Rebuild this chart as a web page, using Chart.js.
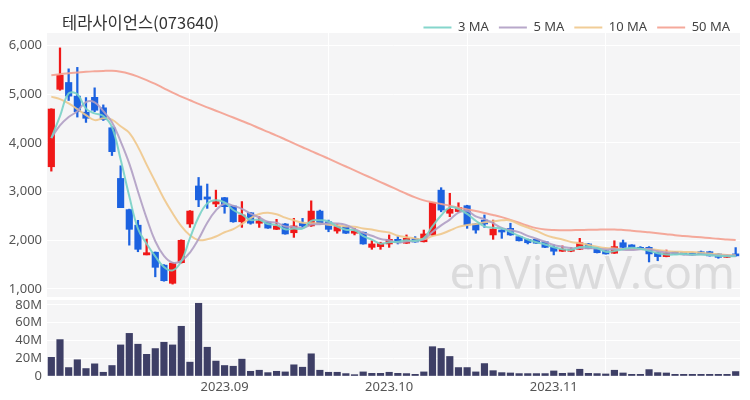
<!DOCTYPE html>
<html>
<head>
<meta charset="utf-8">
<script src="https://cdn.jsdelivr.net/npm/chart.js@4.4.0/dist/chart.umd.min.js"></script>
<style>
  body { margin: 0; background: #fff; }
  #wrap { position: relative; width: 750px; height: 400px; }
  #title { position: absolute; left: 62px; top: 11px; line-height: 22px; font-size: 16.5px;
           font-family: "Noto Sans CJK KR", "Noto Sans", sans-serif; color: #333; }
</style>
</head>
<body>
<div id="wrap">
  <div id="title">테라사이언스(073640)</div>
  <canvas id="myChart" width="750" height="400"></canvas>
</div>
<script>
// 거래일
const dates = [
  '2023-08-03','2023-08-04','2023-08-07','2023-08-08','2023-08-09','2023-08-10','2023-08-11','2023-08-14','2023-08-16','2023-08-17',
  '2023-08-18','2023-08-21','2023-08-22','2023-08-23','2023-08-24','2023-08-25','2023-08-28','2023-08-29','2023-08-30','2023-08-31',
  '2023-09-01','2023-09-04','2023-09-05','2023-09-06','2023-09-07','2023-09-08','2023-09-11','2023-09-12','2023-09-13','2023-09-14',
  '2023-09-15','2023-09-18','2023-09-19','2023-09-20','2023-09-21','2023-09-22','2023-09-25','2023-09-26','2023-09-27','2023-10-04',
  '2023-10-05','2023-10-06','2023-10-10','2023-10-11','2023-10-12','2023-10-13','2023-10-16','2023-10-17','2023-10-18','2023-10-19',
  '2023-10-20','2023-10-23','2023-10-24','2023-10-25','2023-10-26','2023-10-27','2023-10-30','2023-10-31','2023-11-01','2023-11-02',
  '2023-11-03','2023-11-06','2023-11-07','2023-11-08','2023-11-09','2023-11-10','2023-11-13','2023-11-14','2023-11-15','2023-11-16',
  '2023-11-17','2023-11-20','2023-11-21','2023-11-22','2023-11-23','2023-11-24','2023-11-27','2023-11-28','2023-11-29','2023-11-30'
];
const tickLabels = ['2023.09', '2023.10', '2023.11'];
const priceTicks = [1000, 2000, 3000, 4000, 5000, 6000];
const volumeTicks = [0, 20, 40, 60, 80];

const openPrice = [
  3510,5100,5240,4960,4630,4935,4720,4310,3270,2630,
  2310,1700,1755,1490,1117,1540,2335,3115,2890,2745,
  2875,2705,2380,2565,2350,2375,2225,2335,2155,2350,
  2295,2600,2380,2190,2280,2145,2165,1855,1870,1925,
  2020,1940,2040,1970,2110,3030,2555,2590,2710,2335,
  2415,2110,2210,2245,2075,2020,2020,1970,1855,1775,
  1775,1815,1925,1835,1785,1735,1950,1905,1855,1855,
  1745,1665,1765,1735,1735,1765,1765,1720,1650,1720
];
const highPrice = [
  4700,5950,5520,5550,4930,5130,4780,4330,3530,2640,
  2410,2025,1760,1500,1540,2010,2610,3290,3155,3030,
  2880,2710,2795,2570,2485,2380,2430,2345,2450,2450,
  2810,2620,2415,2335,2290,2245,2170,1990,1960,2110,
  2075,2110,2075,2210,2780,3080,2965,2770,2720,2340,
  2520,2415,2215,2350,2080,2025,2030,1980,1905,1885,
  1850,2040,1935,1845,1790,1990,2005,1910,1870,1870,
  1760,1800,1770,1740,1745,1780,1775,1725,1695,1850
];
const lowPrice = [
  3420,5080,4870,4530,4420,4640,4460,3740,2670,1900,
  1765,1700,1250,1160,1100,1530,2265,2690,2655,2690,
  2555,2370,2265,2330,2265,2245,2220,2125,2060,2245,
  2285,2330,2175,2145,2140,2110,1920,1815,1815,1855,
  1925,1935,1960,1965,2100,2585,2485,2580,2245,2145,
  2265,2020,2040,2100,1985,1925,1935,1850,1700,1770,
  1765,1810,1825,1740,1715,1730,1850,1810,1810,1555,
  1580,1660,1715,1700,1695,1710,1675,1630,1645,1675
];
const closePrice = [
  4695,5390,4960,4640,4505,4670,4480,3820,2670,2225,
  1815,1745,1445,1170,1530,2000,2600,2830,2845,2795,
  2690,2380,2520,2350,2400,2250,2295,2130,2295,2295,
  2600,2335,2225,2280,2145,2190,1925,1925,1940,2020,
  1950,2040,1965,2130,2775,2620,2635,2675,2315,2210,
  2335,2230,2170,2110,1990,1950,1940,1855,1775,1815,
  1815,1950,1830,1745,1720,1870,1855,1815,1815,1720,
  1665,1735,1720,1705,1700,1715,1680,1650,1690,1680
];
// 거래량 (백만주)
const volumeM = [
  21,41,9.5,18.3,8.4,13.7,4.2,11.8,35,48,
  35.8,24.4,30.9,38,35,56,15.6,81.9,32.4,16.8,
  11.8,11,19,5.3,6.5,3.8,5.3,4.6,12.6,9.9,
  25,6.5,4.2,4.2,2.7,1.5,4.6,3,3,4.2,
  3,2.7,1.9,4.6,33,31,22,9.5,9.5,4.6,
  14,6,3.8,3.4,2.7,2.7,2.7,2.7,5.7,3,
  3.4,7.6,3,2.7,2.3,6.5,3.4,1.9,1.9,7.2,
  3.8,3.4,1.9,1.9,1.9,1.9,1.9,1.9,1.9,5
];
const ma3 = [
  4100,4550,5015,4997,4702,4605,4552,4323,3657,2905,
  2237,1928,1668,1453,1382,1567,2043,2477,2758,2823,
  2777,2622,2530,2417,2423,2333,2315,2225,2240,2240,
  2397,2410,2387,2280,2217,2205,2087,2013,1930,1962,
  1970,2003,1985,2045,2290,2508,2677,2643,2542,2400,
  2287,2258,2245,2170,2090,2017,1960,1915,1857,1815,
  1802,1860,1865,1842,1765,1778,1815,1847,1828,1783,
  1733,1707,1707,1720,1708,1707,1698,1682,1673,1673
];
const ma5 = [
  4100,4358,4530,4650,4838,4833,4651,4423,4029,3573,
  3002,2455,1980,1680,1541,1578,1749,2026,2361,2614,
  2752,2708,2646,2547,2468,2380,2363,2285,2274,2253,
  2323,2331,2350,2347,2317,2235,2153,2093,2025,2000,
  1952,1975,1983,2021,2172,2306,2425,2567,2604,2491,
  2434,2353,2252,2211,2167,2090,2032,1969,1902,1867,
  1840,1842,1837,1831,1812,1823,1804,1801,1815,1815,
  1774,1750,1731,1709,1705,1715,1704,1690,1687,1683
];
const ma10 = [
  4950,4899,4810,4694,4570,4467,4505,4477,4340,4206,
  3918,3553,3202,2855,2557,2290,2102,2003,2021,2078,
  2165,2229,2336,2454,2541,2566,2536,2466,2411,2361,
  2352,2347,2318,2311,2285,2279,2242,2222,2186,2159,
  2094,2064,2038,2023,2086,2129,2200,2275,2313,2332,
  2370,2389,2410,2408,2329,2262,2193,2111,2057,2017,
  1965,1937,1903,1867,1840,1832,1823,1819,1823,1814,
  1799,1777,1766,1762,1760,1745,1727,1711,1698,1694
];
const ma50 = [
  5390,5410,5430,5445,5460,5470,5478,5480,5460,5420,
  5360,5290,5210,5120,5030,4950,4875,4800,4730,4660,
  4590,4520,4450,4380,4300,4225,4150,4070,3990,3910,
  3830,3755,3675,3595,3515,3435,3355,3275,3195,3115,
  3035,2955,2880,2820,2780,2745,2710,2670,2635,2600,
  2560,2520,2475,2420,2360,2300,2250,2220,2210,2208,
  2208,2210,2214,2218,2222,2222,2212,2198,2182,2163,
  2145,2125,2105,2090,2075,2060,2045,2030,2018,2005
];

const UP = '#f01818';
const DOWN = '#1c62e0';
const candleColors = closePrice.map((c, i) => c >= openPrice[i] ? UP : DOWN);
const fontFamily = '"Noto Sans", sans-serif';

const panePlugin = {
  id: 'panes',
  beforeDraw(chart) {
    const { ctx, chartArea, scales } = chart;
    ctx.save();
    ctx.fillStyle = '#f5f5f6';
    ctx.fillRect(chartArea.left, scales.y.top, chartArea.width, scales.y.bottom - scales.y.top - 3);
    ctx.fillRect(chartArea.left, scales.vol.top, chartArea.width, scales.vol.bottom - scales.vol.top);
    ctx.restore();
  },
  beforeDatasetsDraw(chart) {
    const { ctx, scales } = chart;
    ctx.save();
    ctx.font = '46px ' + fontFamily;
    ctx.fillStyle = 'rgba(150,150,150,0.27)';
    ctx.textAlign = 'right';
    ctx.textBaseline = 'alphabetic';
    ctx.fillText('enViewV.com', chart.chartArea.right - 5, scales.y.bottom - 11);
    ctx.restore();
  }
};

const maLine = (label, data, color) => ({
  type: 'line', label, data, yAxisID: 'y',
  borderColor: color, backgroundColor: color, borderWidth: 2,
  pointRadius: 0, tension: 0.4, fill: false
});

const myChart = new Chart(document.getElementById('myChart'), {
  type: 'bar',
  data: {
    labels: dates,
    datasets: [
      maLine('3 MA', ma3, 'rgba(120,210,198,0.9)'),
      maLine('5 MA', ma5, 'rgba(176,158,196,0.9)'),
      maLine('10 MA', ma10, 'rgba(240,200,140,0.9)'),
      maLine('50 MA', ma50, 'rgba(244,160,144,0.9)'),
      {
        label: 'body', yAxisID: 'y', grouped: false,
        data: openPrice.map((o, i) => [o, closePrice[i]]),
        backgroundColor: candleColors, barThickness: 6.5, minBarLength: 2
      },
      {
        label: 'wick', yAxisID: 'y', grouped: false,
        data: lowPrice.map((l, i) => [l, highPrice[i]]),
        backgroundColor: candleColors, barThickness: 1.6
      },
      {
        label: 'volume', yAxisID: 'vol', grouped: false,
        data: volumeM, backgroundColor: '#3e3f66', barThickness: 6.5
      }
    ]
  },
  options: {
    responsive: false,
    animation: false,
    layout: { padding: { top: 11, right: 10, left: 0, bottom: 0 } },
    plugins: {
      tooltip: { enabled: false },
      legend: {
        position: 'top', align: 'end', maxHeight: 22,
        labels: {
          boxWidth: 28, boxHeight: 2, padding: 10,
          color: '#444', font: { family: fontFamily, size: 13 },
          generateLabels: chart => Chart.defaults.plugins.legend.labels.generateLabels(chart)
            .filter(item => item.datasetIndex < 4)
            .map(item => Object.assign(item, { lineWidth: 0 }))
        }
      }
    },
    scales: {
      x: {
        offset: true,
        grid: {
          offset: false, drawTicks: false, lineWidth: 1,
          color: ctx => (ctx.index > 0 && ctx.index % 16 === 0) ? '#ffffff' : 'rgba(0,0,0,0)'
        },
        border: { display: false },
        ticks: {
          autoSkip: false, maxRotation: 0, minRotation: 0, padding: 3,
          color: '#555', font: { family: fontFamily, size: 13 },
          callback: (value, index) => {
            const m = dates[index].slice(0, 7).replace('-', '.');
            const first = index === 0 || dates[index - 1].slice(0, 7) !== dates[index].slice(0, 7);
            return (first && tickLabels.includes(m)) ? m : '';
          }
        },
        afterFit: s => { s.height = 24; }
      },
      vol: {
        type: 'linear', position: 'left', stack: 'pane', stackWeight: 76,
        min: 0, max: 85.6,
        grid: { color: '#ffffff', drawTicks: false },
        border: { display: false },
        ticks: {
          autoSkip: false, padding: 5, color: '#555', font: { family: fontFamily, size: 13 },
          callback: v => v === 0 ? '0' : v + 'M'
        },
        afterBuildTicks: s => { s.ticks = volumeTicks.map(v => ({ value: v })); },
        afterFit: s => { s.width = 47; }
      },
      y: {
        type: 'linear', position: 'left', stack: 'pane', stackWeight: 267,
        min: 774, max: 6256,
        grid: { color: '#ffffff', drawTicks: false },
        border: { display: false },
        ticks: {
          autoSkip: false, padding: 5, color: '#555', font: { family: fontFamily, size: 13 },
          callback: v => v.toLocaleString('en-US')
        },
        afterBuildTicks: s => { s.ticks = priceTicks.map(v => ({ value: v })); },
        afterFit: s => { s.width = 47; }
      }
    }
  },
  plugins: [panePlugin]
});
</script>
</body>
</html>
